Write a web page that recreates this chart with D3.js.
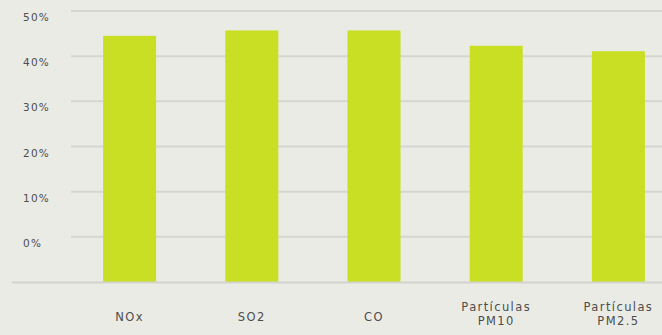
<!DOCTYPE html>
<html>
<head>
<meta charset="utf-8">
<script src="https://cdn.jsdelivr.net/npm/d3@7"></script>
<style>
  html, body { margin: 0; padding: 0; background: #ebebe6; }
  svg { display: block; }
  text { font-family: "DejaVu Sans", "Noto Sans", sans-serif; fill: #4d4d4d; }
</style>
</head>
<body>
<svg id="chart" width="662" height="335"></svg>
<script>
// Share of emissions by pollutant
const categories = ["NOx", "SO2", "CO", "Partículas\nPM10", "Partículas\nPM2.5"];
const values = [44.5, 45.7, 45.7, 42.3, 41.1];
const tickValues = [0, 10, 20, 30, 40, 50];
const tickLabels = ["0%", "10%", "20%", "30%", "40%", "50%"];

const W = 662, H = 335;
const svg = d3.select("#chart");

const y = d3.scaleLinear().domain([-10, 50]).range([282, 11]);
const x = d3.scaleBand()
  .domain(categories)
  .range([68.5, 679.5])
  .paddingInner(0.566)
  .paddingOuter(0.283);

// horizontal gridlines
svg.append("g")
  .selectAll("line")
  .data(tickValues)
  .join("line")
  .attr("x1", 71).attr("x2", W)
  .attr("y1", d => y(d)).attr("y2", d => y(d))
  .attr("stroke", "#d6d6d1")
  .attr("stroke-width", 2);

// tick labels
svg.append("g")
  .selectAll("text")
  .data(tickValues)
  .join("text")
  .attr("x", 23)
  .attr("y", d => y(d) + 10)
  .attr("font-size", 10.5)
  .attr("letter-spacing", 1.2)
  .text((d, i) => tickLabels[i]);

// bars
svg.append("g")
  .selectAll("rect")
  .data(values)
  .join("rect")
  .attr("x", (d, i) => x(categories[i]))
  .attr("width", x.bandwidth())
  .attr("y", d => y(d))
  .attr("height", d => y(-10) - y(d))
  .attr("fill", "#c8df24");

// baseline
svg.append("line")
  .attr("x1", 12).attr("x2", W)
  .attr("y1", y(-10) + 0.5).attr("y2", y(-10) + 0.5)
  .attr("stroke", "#d3d3ce")
  .attr("stroke-width", 2);

// category labels
const lab = svg.append("g")
  .selectAll("text")
  .data(categories)
  .join("text")
  .attr("text-anchor", "middle")
  .attr("font-size", 11.5)
  .attr("letter-spacing", 1.4)
  .attr("x", d => x(d) + x.bandwidth() / 2)
  .attr("y", d => d.includes("\n") ? 311 : 321);
lab.each(function(d) {
  const lines = d.split("\n");
  d3.select(this).selectAll("tspan")
    .data(lines)
    .join("tspan")
    .attr("x", x(d) + x.bandwidth() / 2)
    .attr("dy", (l, i) => i === 0 ? 0 : 13.5)
    .text(l => l);
});
</script>
</body>
</html>
